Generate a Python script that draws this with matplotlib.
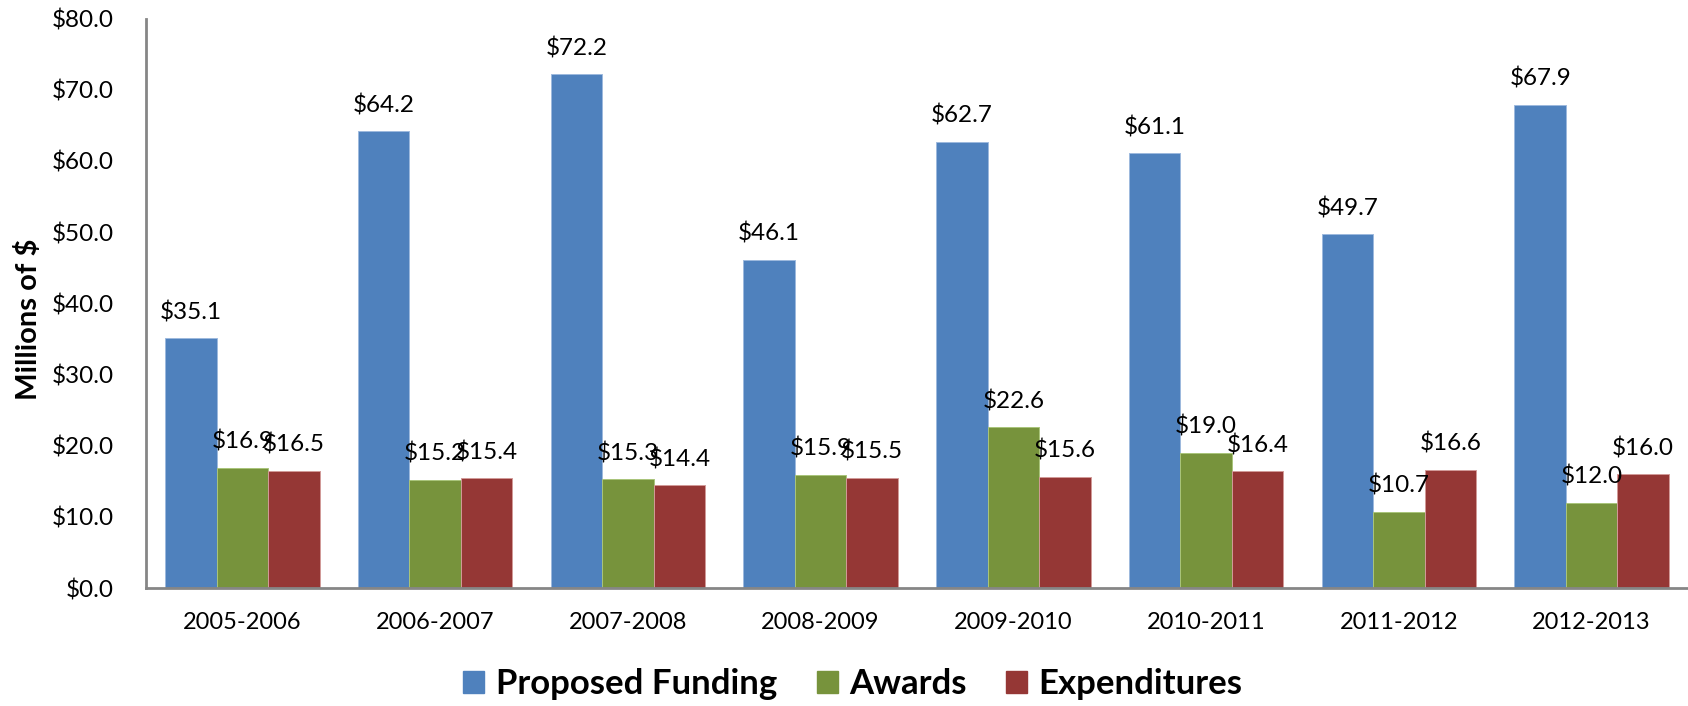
import matplotlib
matplotlib.use("Agg")
import matplotlib.pyplot as plt
import numpy as np
from matplotlib.patches import Patch

plt.rcParams['font.family'] = ['Lato', 'DejaVu Sans']

categories = ["2005-2006", "2006-2007", "2007-2008", "2008-2009",
              "2009-2010", "2010-2011", "2011-2012", "2012-2013"]
proposed = [35.1, 64.2, 72.2, 46.1, 62.7, 61.1, 49.7, 67.9]
awards = [16.9, 15.2, 15.3, 15.9, 22.6, 19.0, 10.7, 12.0]
expenditures = [16.5, 15.4, 14.4, 15.5, 15.6, 16.4, 16.6, 16.0]
series_names = ["Proposed Funding", "Awards", "Expenditures"]
yticks = [0, 10, 20, 30, 40, 50, 60, 70, 80]

colors = ["#4F81BD", "#77933C", "#953735"]
edges = ["#9DB9DE", "#A9C47A", "#D29A98"]

W, H = 1688, 706
fig = plt.figure(figsize=(W / 100, H / 100), dpi=100)
ax = fig.add_axes([146 / W, 1 - 588 / H, (W - 146) / W, (588 - 18.5) / H])

x = np.arange(len(categories))
bw = 0.267
for i, (vals, c, ec) in enumerate(zip([proposed, awards, expenditures], colors, edges)):
    bars = ax.bar(x + (i - 1) * bw, vals, width=bw, color=c, edgecolor=ec,
                  linewidth=0.7, zorder=2)
    for b, v in zip(bars, vals):
        ax.annotate(f"${v:.1f}", (b.get_x() + b.get_width() / 2, v),
                    xytext=(0, 18.7), textcoords="offset points",
                    ha="center", va="center", fontsize=17.5, color="black", zorder=3)

ax.set_xlim(-0.5, 7.5)
ax.set_ylim(0, 80)
ax.set_yticks(yticks)
ax.set_yticklabels([f"${t:.1f}" for t in yticks], fontsize=17.5)
ax.set_xticks(x)
ax.set_xticklabels(categories, fontsize=17)
ax.tick_params(axis="y", length=0, pad=23)
ax.tick_params(axis="x", length=0, pad=17.5)
for s in ["top", "right"]:
    ax.spines[s].set_visible(False)
for s in ["left", "bottom"]:
    ax.spines[s].set_color("#868686")
    ax.spines[s].set_linewidth(2)

fig.text(28 / W, 1 - 319 / H, "Millions of $", rotation=90, ha="center", va="center",
         fontsize=21, fontweight="bold")

handles = [Patch(facecolor=c, edgecolor=c) for c in colors]
leg = fig.legend(handles, series_names, loc="center", bbox_to_anchor=(853 / W, 1 - 684 / H),
                 ncol=3, frameon=False, prop={"size": 25, "weight": "bold"},
                 handlelength=0.6, handleheight=0.6, handletextpad=0.33,
                 columnspacing=1.15, borderpad=0, borderaxespad=0)

fig.savefig("out.png", dpi=100)
